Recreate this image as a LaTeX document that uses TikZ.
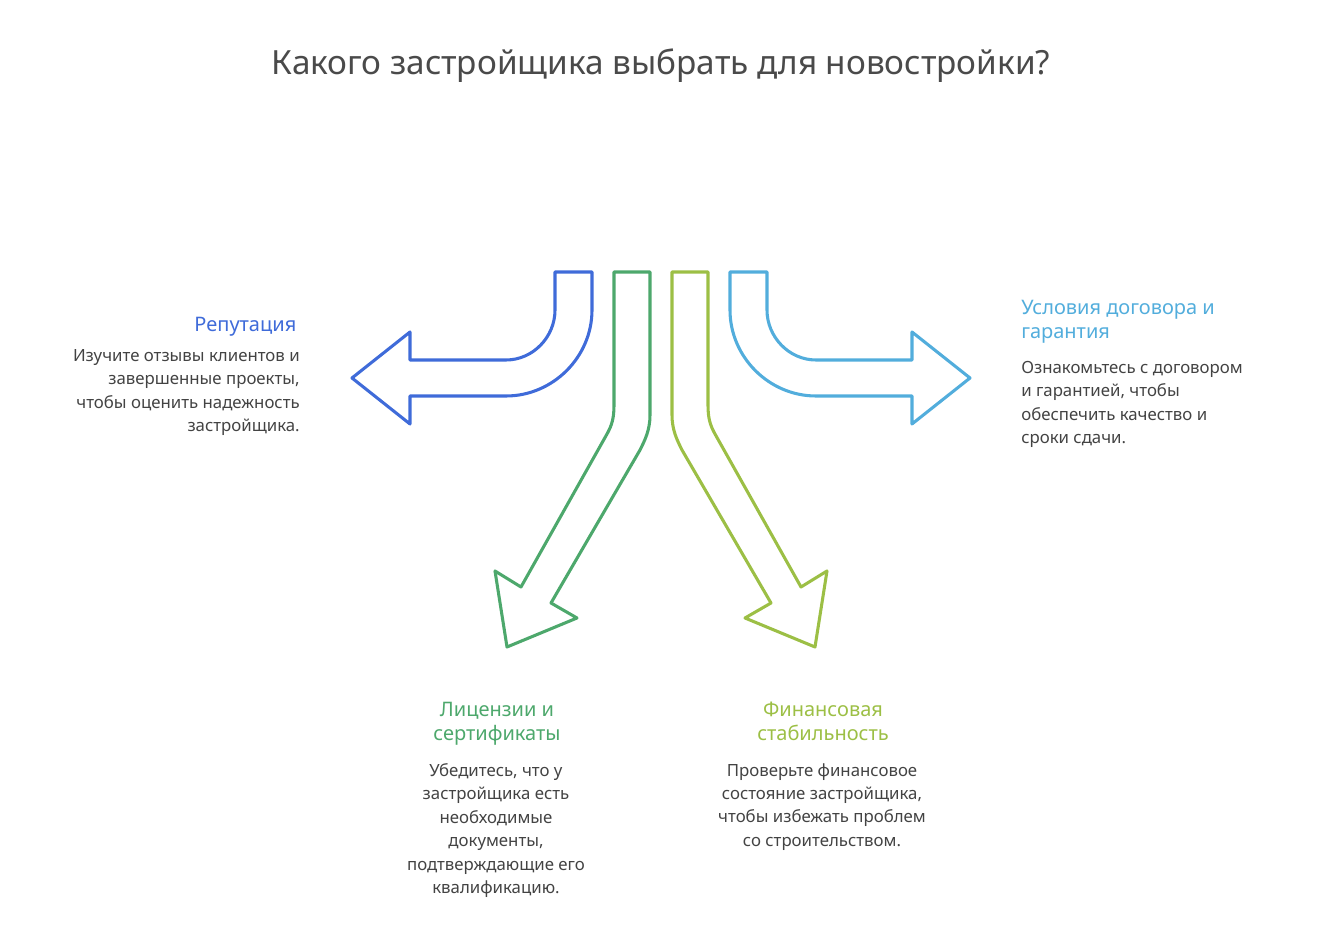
\documentclass[tikz,border=0pt]{standalone}
\usepackage{fontspec}
\setmainfont{Noto Sans}
\usepackage{tikz}
\definecolor{repblue}{HTML}{3F6BD9}
\definecolor{licgreen}{HTML}{4DA86C}
\definecolor{fingreen}{HTML}{9CBF45}
\definecolor{dogblue}{HTML}{52ADDC}
\definecolor{titlegray}{HTML}{4A4A4A}

\begin{document}
\begin{tikzpicture}[x=0.75pt, y=-0.75pt,
    outline/.style={line width=2.3pt, line join=round},
    head/.style={font=\fontsize{15}{18}\selectfont},
    body/.style={font=\fontsize{12.6}{17.6}\selectfont, text=titlegray!90!black}]
    \useasboundingbox (0,0) rectangle (1318,944);

    % title
    \node[font=\fontsize{25}{30}\selectfont\bfseries, text=titlegray] (title) at (661,66) {Какого застройщика выбрать для новостройки?};

    % Reputation arrow (left)
    \draw[outline, repblue] (555,272) -- (592,272) -- (592,310)
        .. controls (592,357) and (553,396) .. (506,396) -- (410,396) -- (410,424)
        -- (352,378) -- (410,332) -- (410,360) -- (506,360)
        .. controls (533,360) and (555,337) .. (555,310) -- cycle;

    % Contract arrow (right)
    \draw[outline, dogblue] (767,272) -- (730,272) -- (730,310)
        .. controls (730,357) and (769,396) .. (816,396) -- (912,396) -- (912,424)
        -- (970,378) -- (912,332) -- (912,360) -- (816,360)
        .. controls (789,360) and (767,337) .. (767,310) -- cycle;

    % Licences arrow (down left)
    \draw[outline, licgreen] (614,272) -- (650,272) -- (650,415)
        .. controls (650,430) and (645,440) .. (640,450) -- (551,603) -- (577,618)
        -- (507,647) -- (495,571) -- (521,587) -- (607,434)
        .. controls (612,425) and (614,418) .. (614,405) -- cycle;

    % Finance arrow (down right)
    \draw[outline, fingreen] (708,272) -- (672,272) -- (672,415)
        .. controls (672,430) and (677,440) .. (682,450) -- (771,603) -- (745,618)
        -- (815,647) -- (827,571) -- (801,587) -- (715,434)
        .. controls (710,425) and (708,418) .. (708,405) -- cycle;

    % Reputation text
    \node[head, text=repblue, anchor=east] (rephead) at (301,327) {Репутация};
    \node[body, anchor=north east, align=right, inner sep=0pt] (repbody) at (300,349)
        {Изучите отзывы клиентов и\\завершенные проекты,\\чтобы оценить надежность\\застройщика.};

    % Contract text
    \node[head, text=dogblue, anchor=north west, align=left, inner sep=0pt] (doghead) at (1021,300)
        {Условия договора и\\гарантия};
    \node[body, anchor=north west, align=left, inner sep=0pt] (dogbody) at (1021,361)
        {Ознакомьтесь с договором\\и гарантией, чтобы\\обеспечить качество и\\сроки сдачи.};

    % Licences text
    \node[head, text=licgreen, anchor=north, align=center, inner sep=0pt] (lichead) at (497,702)
        {Лицензии и\\сертификаты};
    \node[body, anchor=north, align=center, inner sep=0pt] (licbody) at (496,763)
        {Убедитесь, что у\\застройщика есть\\необходимые\\документы,\\подтверждающие его\\квалификацию.};

    % Finance text
    \node[head, text=fingreen, anchor=north, align=center, inner sep=0pt] (finhead) at (823,702)
        {Финансовая\\стабильность};
    \node[body, anchor=north, align=center, inner sep=0pt] (finbody) at (822,763)
        {Проверьте финансовое\\состояние застройщика,\\чтобы избежать проблем\\со строительством.};
\end{tikzpicture}
\end{document}
